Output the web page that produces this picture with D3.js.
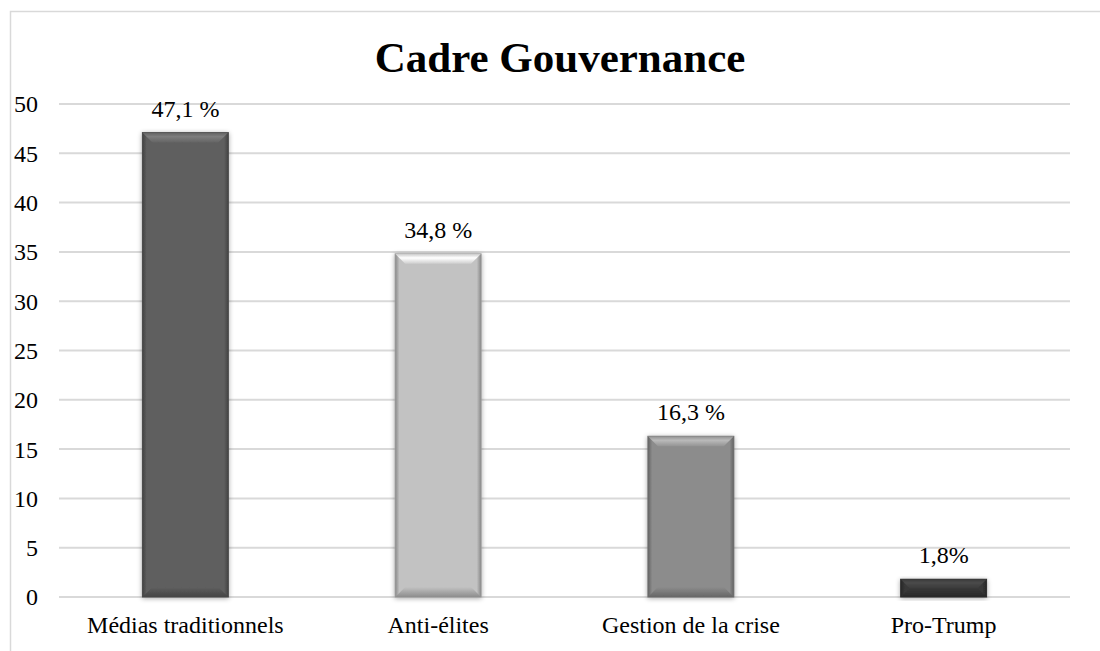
<!DOCTYPE html>
<html>
<head>
<meta charset="utf-8">
<script src="https://cdnjs.cloudflare.com/ajax/libs/d3/7.8.5/d3.min.js"></script>
<style>
  body { margin: 0; background: #fff; }
  text { font-family: "Liberation Serif", "Times New Roman", serif; fill: #000; }
</style>
</head>
<body>
<div id="chart"></div>
<script>
var width = 1100,
    height = 651;

var categories = ["Médias traditionnels", "Anti-élites", "Gestion de la crise", "Pro-Trump"];
var values = [47.1, 34.8, 16.3, 1.8];
var valueLabels = ["47,1 %", "34,8 %", "16,3 %", "1,8%"];
var barColors = ["#5f5f5f", "#c2c2c2", "#8c8c8c", "#383838"];
var yTicks = [0, 5, 10, 15, 20, 25, 30, 35, 40, 45, 50];

var margin = {left: 59, right: 30, top: 104, bottom: 54};

var svg = d3.select("#chart")
  .append("svg")
  .attr("width", width)
  .attr("height", height);

// outer frame (runs off right and bottom)
svg.append("rect")
  .attr("x", 10.5).attr("y", 11.5)
  .attr("width", 1200).attr("height", 800)
  .attr("fill", "none")
  .attr("stroke", "#d9d9d9")
  .attr("stroke-width", 1.5);

var x = d3.scaleBand()
  .domain(categories)
  .range([margin.left, width - margin.right])
  .paddingInner(0.66)
  .paddingOuter(0.33);

var y = d3.scaleLinear()
  .domain([0, 50])
  .range([height - margin.bottom, margin.top]);

// gridlines
svg.append("g")
  .selectAll("line")
  .data(yTicks)
  .enter()
  .append("line")
  .attr("x1", margin.left)
  .attr("x2", width - margin.right)
  .attr("y1", function(d) { return y(d); })
  .attr("y2", function(d) { return y(d); })
  .attr("stroke", "#d9d9d9")
  .attr("stroke-width", 2);

// y tick labels
svg.append("g")
  .selectAll("text")
  .data(yTicks)
  .enter()
  .append("text")
  .attr("x", 38)
  .attr("y", function(d) { return y(d); })
  .attr("dy", "0.35em")
  .attr("text-anchor", "end")
  .style("font-size", "24px")
  .text(function(d) { return d; });

// title
svg.append("text")
  .attr("x", 560)
  .attr("y", 72)
  .attr("text-anchor", "middle")
  .style("font-size", "43px")
  .style("font-weight", "bold")
  .text("Cadre Gouvernance");

var defs = svg.append("defs");
var shadow = defs.append("filter").attr("id", "shadow")
  .attr("x", "-20%").attr("y", "-20%").attr("width", "140%").attr("height", "140%");
shadow.append("feGaussianBlur").attr("in", "SourceAlpha").attr("stdDeviation", 2.5);
shadow.append("feOffset").attr("dx", 0).attr("dy", 1).attr("result", "blur");
shadow.append("feComponentTransfer").append("feFuncA").attr("type", "linear").attr("slope", 0.35);
var merge = shadow.append("feMerge");
merge.append("feMergeNode");
merge.append("feMergeNode").attr("in", "SourceGraphic");

// bevel gradients per bar
barColors.forEach(function(c, i) {
  var g = defs.append("linearGradient").attr("id", "top" + i)
    .attr("x1", 0).attr("y1", 0).attr("x2", 0).attr("y2", 1);
  g.append("stop").attr("offset", "0%").attr("stop-color", d3.color(c).brighter(0.1));
  g.append("stop").attr("offset", "40%").attr("stop-color", d3.color(c).brighter(0.8));
  g.append("stop").attr("offset", "100%").attr("stop-color", d3.color(c).brighter(0.15));
  var bt = defs.append("linearGradient").attr("id", "bot" + i)
    .attr("x1", 0).attr("y1", 0).attr("x2", 0).attr("y2", 1);
  bt.append("stop").attr("offset", "0%").attr("stop-color", c);
  bt.append("stop").attr("offset", "100%").attr("stop-color", d3.color(c).darker(0.9));
  var s = defs.append("linearGradient").attr("id", "side" + i)
    .attr("x1", 0).attr("y1", 0).attr("x2", 1).attr("y2", 0);
  s.append("stop").attr("offset", "0%").attr("stop-color", d3.color(c).darker(1));
  s.append("stop").attr("offset", "5%").attr("stop-color", c);
  s.append("stop").attr("offset", "95%").attr("stop-color", c);
  s.append("stop").attr("offset", "100%").attr("stop-color", d3.color(c).darker(1));
});

var b = 10;
var bars = svg.append("g")
  .selectAll("g")
  .data(values)
  .enter()
  .append("g")
  .attr("filter", "url(#shadow)");

bars.append("rect")
  .attr("x", function(d, i) { return x(categories[i]); })
  .attr("y", function(d) { return y(d); })
  .attr("width", x.bandwidth())
  .attr("height", function(d) { return y(0) - y(d); })
  .attr("fill", function(d, i) { return "url(#side" + i + ")"; })
  .attr("stroke", function(d, i) { return d3.color(barColors[i]).darker(0.7); })
  .attr("stroke-width", 1);

bars.append("path")
  .attr("d", function(d, i) {
    var x0 = x(categories[i]), x1 = x0 + x.bandwidth(), y0 = y(d);
    var bb = Math.min(b, (y(0) - y0) / 2);
    return "M" + x0 + "," + y0 + "L" + x1 + "," + y0 + "L" + (x1 - bb) + "," + (y0 + bb) +
      "L" + (x0 + bb) + "," + (y0 + bb) + "Z";
  })
  .attr("fill", function(d, i) { return "url(#top" + i + ")"; });

bars.append("path")
  .attr("d", function(d, i) {
    var x0 = x(categories[i]), x1 = x0 + x.bandwidth(), y1 = y(0);
    var bb = Math.min(b, (y1 - y(d)) / 2);
    return "M" + x0 + "," + y1 + "L" + x1 + "," + y1 + "L" + (x1 - bb) + "," + (y1 - bb) +
      "L" + (x0 + bb) + "," + (y1 - bb) + "Z";
  })
  .attr("fill", function(d, i) { return "url(#bot" + i + ")"; });

// value labels
svg.append("g")
  .selectAll("text")
  .data(values)
  .enter()
  .append("text")
  .attr("x", function(d, i) { return x(categories[i]) + x.bandwidth() / 2; })
  .attr("y", function(d) { return y(d) - 16; })
  .attr("text-anchor", "middle")
  .style("font-size", "24px")
  .text(function(d, i) { return valueLabels[i]; });

// category labels
svg.append("g")
  .selectAll("text")
  .data(categories)
  .enter()
  .append("text")
  .attr("x", function(d) { return x(d) + x.bandwidth() / 2; })
  .attr("y", 633)
  .attr("text-anchor", "middle")
  .style("font-size", "24px")
  .text(function(d) { return d; });
</script>
</body>
</html>
